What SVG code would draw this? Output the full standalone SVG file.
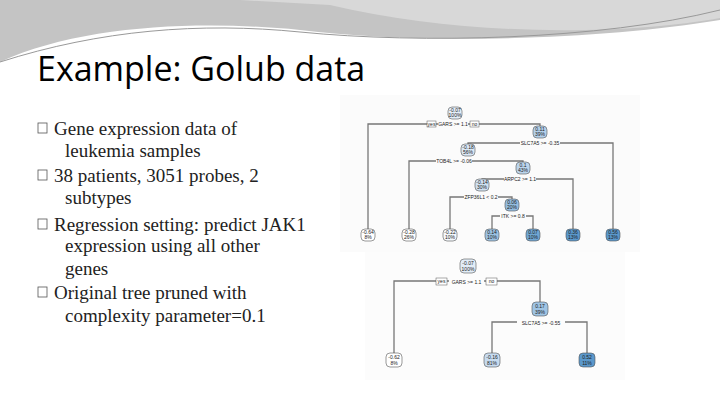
<svg xmlns="http://www.w3.org/2000/svg" width="720" height="405" viewBox="0 0 720 405">
<style>
.t{font-family:"Liberation Serif",serif;font-size:19px;fill:#222}
.n{font-family:"Liberation Sans",sans-serif;font-size:5px;fill:#222;text-anchor:middle}
.l{font-family:"Liberation Sans",sans-serif;font-size:5px;fill:#222;text-anchor:middle}
.e{stroke:#777;stroke-width:1.3;fill:none}
.nb{stroke:#555;stroke-width:0.6}
</style>
<rect width="720" height="405" fill="#fff"/>
<path d="M0,0 H720 V20 C600,40 420,45 300,30 C200,20 80,25 0,62 Z" fill="#c4c4c4"/>
<path d="M240,0 H720 V18 C620,36 460,36 330,5 Z" fill="#d8d8d8"/>
<path d="M0,62 C100,30 200,22 300,32 C420,44 600,40 720,10" stroke="#999" stroke-width="1" fill="none"/>
<text x="37" y="81" font-family="'Open Sans',Lato,sans-serif" font-size="34" fill="#000">Example: Golub data</text>
<g id="bullets">
<g fill="none" stroke="#555" stroke-width="0.8">
<rect x="38" y="123" width="9" height="10"/><rect x="38" y="170" width="9" height="10"/>
<rect x="38" y="219" width="9" height="10"/><rect x="38" y="287" width="9" height="10"/></g>
<text class="t" x="54" y="135">Gene expression data of</text>
<text class="t" x="65" y="157">leukemia samples</text>
<text class="t" x="54" y="182">38 patients, 3051 probes, 2</text>
<text class="t" x="65" y="204">subtypes</text>
<text class="t" x="54" y="231">Regression setting: predict JAK1</text>
<text class="t" x="65" y="252">expression using all other</text>
<text class="t" x="65" y="275">genes</text>
<text class="t" x="54" y="299">Original tree pruned with</text>
<text class="t" x="65" y="322">complexity parameter=0.1</text>
</g>
<rect x="340" y="95" width="300" height="157" fill="#fbfbfb"/>
<g id="connectors1" class="e">
<path d="M368,235 V124 H540 V132"/>
<path d="M468,150 V143 H613 V235"/>
<path d="M409,235 V161 H523 V168"/>
<path d="M482,185 V179 H573 V235"/>
<path d="M450,235 V197 H512 V205"/>
<path d="M492,235 V216 H533 V235"/>
</g>
<g id="labels1">
<rect x="427" y="121" width="9" height="6" fill="#fff" stroke="#555" stroke-width="0.5"/><text class="n" x="431.5" y="125.7" font-size="4">yes</text>
<rect x="470" y="121" width="9" height="6" fill="#fff" stroke="#555" stroke-width="0.5"/><text class="n" x="474.5" y="125.7" font-size="4">no</text>
<rect x="438" y="121" width="30" height="6" fill="#fbfbfb"/><text class="l" x="453" y="125.7">GARS &gt;= 1.1</text>
<rect x="520" y="140" width="40" height="6" fill="#fbfbfb"/><text class="l" x="540" y="145">SLC7A5 &gt;= -0.35</text>
<rect x="436" y="158" width="36" height="6" fill="#fbfbfb"/><text class="l" x="454" y="163">TOB4L &gt;= -0.06</text>
<rect x="504" y="176" width="32" height="6" fill="#fbfbfb"/><text class="l" x="520" y="181">ARPC2 &gt;= 1.1</text>
<rect x="464" y="194" width="34" height="6" fill="#fbfbfb"/><text class="l" x="481" y="199">ZFP36L1 &lt; 0.2</text>
<rect x="500" y="213" width="26" height="6" fill="#fbfbfb"/><text class="l" x="513" y="218">ITK &gt;= 0.8</text>
</g>
<g id="t1n0"><rect class="nb" x="448" y="107" width="14" height="12" rx="4" fill="#e4eef8"/><text class="n" x="455" y="112">-0.07</text><text class="n" x="455" y="117">100%</text></g>
<g id="t1n1"><rect class="nb" x="533" y="126" width="14" height="12" rx="4" fill="#b4d0ea"/><text class="n" x="540" y="131">0.11</text><text class="n" x="540" y="136">39%</text></g>
<g id="t1n2"><rect class="nb" x="461" y="144" width="14" height="12" rx="4" fill="#dbe8f5"/><text class="n" x="468" y="149">-0.18</text><text class="n" x="468" y="154">56%</text></g>
<g id="t1n3"><rect class="nb" x="516" y="162" width="14" height="12" rx="4" fill="#bcd5ec"/><text class="n" x="523" y="167">0.1</text><text class="n" x="523" y="172">43%</text></g>
<g id="t1n4"><rect class="nb" x="475" y="179" width="14" height="12" rx="4" fill="#cfe0f1"/><text class="n" x="482" y="184">-0.14</text><text class="n" x="482" y="189">30%</text></g>
<g id="t1n5"><rect class="nb" x="505" y="199" width="14" height="12" rx="4" fill="#94bde0"/><text class="n" x="512" y="204">0.06</text><text class="n" x="512" y="209">20%</text></g>
<g id="t1l1"><rect class="nb" x="361" y="229" width="14" height="12" rx="4" fill="#fff"/><text class="n" x="368" y="234">-0.64</text><text class="n" x="368" y="239">8%</text></g>
<g id="t1l2"><rect class="nb" x="402" y="229" width="14" height="12" rx="4" fill="#fff"/><text class="n" x="409" y="234">-0.28</text><text class="n" x="409" y="239">26%</text></g>
<g id="t1l3"><rect class="nb" x="443" y="229" width="14" height="12" rx="4" fill="#f4f8fc"/><text class="n" x="450" y="234">-0.22</text><text class="n" x="450" y="239">10%</text></g>
<g id="t1l4"><rect class="nb" x="485" y="229" width="14" height="12" rx="4" fill="#9cc2e3"/><text class="n" x="492" y="234">0.14</text><text class="n" x="492" y="239">10%</text></g>
<g id="t1l5"><rect class="nb" x="526" y="229" width="14" height="12" rx="4" fill="#6fa6d3"/><text class="n" x="533" y="234">0.07</text><text class="n" x="533" y="239">10%</text></g>
<g id="t1l6"><rect class="nb" x="566" y="229" width="14" height="12" rx="4" fill="#5a98cc"/><text class="n" x="573" y="234">0.36</text><text class="n" x="573" y="239">13%</text></g>
<g id="t1l7"><rect class="nb" x="606" y="229" width="14" height="12" rx="4" fill="#5a98cc"/><text class="n" x="613" y="234">0.56</text><text class="n" x="613" y="239">13%</text></g>
<rect x="365" y="252" width="260" height="128" fill="#fcfcfc"/>
<g id="connectors2" class="e">
<path d="M394,360 V281 H540 V310"/>
<path d="M492,360 V322 H587 V360"/>
</g>
<g id="labels2">
<rect x="436" y="278" width="11" height="7" fill="#fff" stroke="#555" stroke-width="0.5"/><text class="n" x="441.5" y="283.3" font-size="4.5">yes</text>
<rect x="486" y="278" width="11" height="7" fill="#fff" stroke="#555" stroke-width="0.5"/><text class="n" x="491.5" y="283.3" font-size="4.5">no</text>
<rect x="449" y="278" width="35" height="7" fill="#fcfcfc"/><text class="l" x="466.5" y="283.5" font-size="6">GARS &gt;= 1.1</text>
<rect x="517" y="319" width="48" height="7" fill="#fcfcfc"/><text class="l" x="541" y="324.5" font-size="6">SLC7A5 &gt;= -0.55</text>
</g>
<g id="t2n0"><rect class="nb" x="460" y="259" width="16" height="14" rx="4" fill="#e2edf7"/><text class="n" x="468" y="265">-0.07</text><text class="n" x="468" y="271">100%</text></g>
<g id="t2n1"><rect class="nb" x="532" y="302" width="16" height="14" rx="4" fill="#9fc4e4"/><text class="n" x="540" y="308">0.17</text><text class="n" x="540" y="314">39%</text></g>
<g id="t2l1"><rect class="nb" x="386" y="353" width="16" height="14" rx="4" fill="#fff"/><text class="n" x="394" y="359">-0.62</text><text class="n" x="394" y="365">8%</text></g>
<g id="t2l2"><rect class="nb" x="484" y="353" width="16" height="14" rx="4" fill="#c7dbef"/><text class="n" x="492" y="359">-0.16</text><text class="n" x="492" y="365">81%</text></g>
<g id="t2l3"><rect class="nb" x="579" y="353" width="16" height="14" rx="4" fill="#5b98cb"/><text class="n" x="587" y="359">0.52</text><text class="n" x="587" y="365">11%</text></g>
</svg>
